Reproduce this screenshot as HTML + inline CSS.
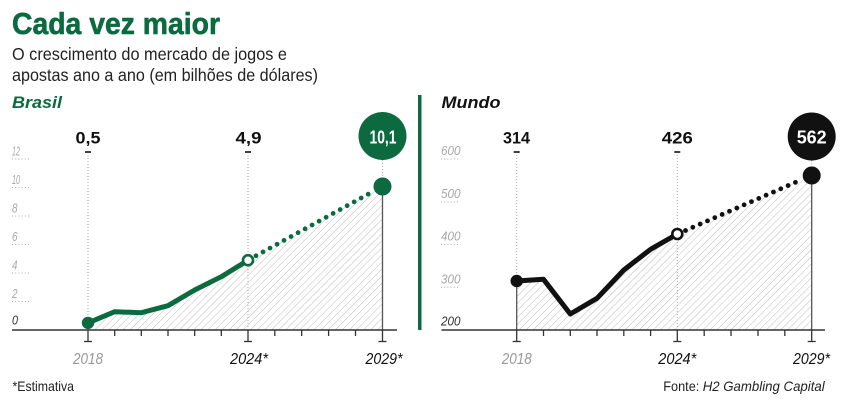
<!DOCTYPE html>
<html><head><meta charset="utf-8">
<style>
html,body{margin:0;padding:0;background:#fff;}
svg{display:block;}
text{font-family:"Liberation Sans",sans-serif;}
</style></head>
<body>
<svg width="851" height="400" viewBox="0 0 851 400" xmlns="http://www.w3.org/2000/svg">
<defs>
<pattern id="h" width="5" height="5" patternUnits="userSpaceOnUse" patternTransform="rotate(45)">
<line x1="0" y1="0" x2="0" y2="5" stroke="#bdbdbd" stroke-width="1"/>
</pattern>
</defs>
<rect width="851" height="400" fill="#fff"/>

<!-- Titles -->
<text x="12" y="34" font-size="31" font-weight="bold" fill="#0b6a3f" stroke="#0b6a3f" stroke-width="0.6" textLength="208" lengthAdjust="spacingAndGlyphs">Cada vez maior</text>
<text x="12" y="60" font-size="17.5" fill="#222" textLength="275" lengthAdjust="spacingAndGlyphs">O crescimento do mercado de jogos e</text>
<text x="12" y="81" font-size="17.5" fill="#222" textLength="306" lengthAdjust="spacingAndGlyphs">apostas ano a ano (em bilhões de dólares)</text>
<text x="12" y="108" font-size="17" font-weight="bold" font-style="italic" fill="#0b6a3f" textLength="50" lengthAdjust="spacingAndGlyphs">Brasil</text>
<text x="441.5" y="108" font-size="17" font-weight="bold" font-style="italic" fill="#111" textLength="59" lengthAdjust="spacingAndGlyphs">Mundo</text>

<!-- divider -->
<rect x="418" y="95" width="3.5" height="235" fill="#0b6a3f"/>

<!-- ================= BRASIL ================= -->
<g font-style="italic" font-size="13" fill="#a8a8a8">
<text x="12" y="155.5" textLength="8" lengthAdjust="spacingAndGlyphs">12</text>
<text x="12" y="184" textLength="8" lengthAdjust="spacingAndGlyphs">10</text>
<text x="12" y="212.5" textLength="5.5" lengthAdjust="spacingAndGlyphs">8</text>
<text x="12" y="241" textLength="5.5" lengthAdjust="spacingAndGlyphs">6</text>
<text x="12" y="269.5" textLength="5.5" lengthAdjust="spacingAndGlyphs">4</text>
<text x="12" y="298" textLength="5.5" lengthAdjust="spacingAndGlyphs">2</text>
<text x="12" y="324.5" fill="#333" textLength="6" lengthAdjust="spacingAndGlyphs">0</text>
</g>
<g stroke="#aaa" stroke-width="1" stroke-dasharray="1 2.2">
<line x1="12" y1="159" x2="31" y2="159"/>
<line x1="12" y1="187.5" x2="31" y2="187.5"/>
<line x1="12" y1="216" x2="31" y2="216"/>
<line x1="12" y1="244.5" x2="31" y2="244.5"/>
<line x1="12" y1="273" x2="31" y2="273"/>
<line x1="12" y1="301.5" x2="31" y2="301.5"/>
</g>

<polygon points="88,330 88,322.9 114.7,311.7 141.3,312.7 168,305.7 194.7,290 221.3,276.7 248,260.2 382.5,186.5 382.5,330" fill="url(#h)"/>

<!-- dotted verticals -->
<g stroke="#aaa" stroke-width="1" stroke-dasharray="1 2">
<line x1="88" y1="155" x2="88" y2="318"/>
<line x1="248" y1="155" x2="248" y2="330"/>
<line x1="382.5" y1="160" x2="382.5" y2="178"/>
</g>
<line x1="382.5" y1="186" x2="382.5" y2="330" stroke="#555" stroke-width="1.3"/>

<!-- label dashes -->
<g stroke="#111" stroke-width="1.6">
<line x1="85" y1="152" x2="91" y2="152"/>
<line x1="245" y1="152" x2="251" y2="152"/>
</g>

<!-- axis -->
<line x1="12" y1="330" x2="397" y2="330" stroke="#333" stroke-width="1.5"/>
<g stroke="#333" stroke-width="1.3">
<line x1="114.7" y1="330" x2="114.7" y2="336"/>
<line x1="141.3" y1="330" x2="141.3" y2="336"/>
<line x1="168" y1="330" x2="168" y2="336"/>
<line x1="194.7" y1="330" x2="194.7" y2="336"/>
<line x1="221.3" y1="330" x2="221.3" y2="336"/>
<line x1="274.8" y1="330" x2="274.8" y2="336"/>
<line x1="301.7" y1="330" x2="301.7" y2="336"/>
<line x1="328.6" y1="330" x2="328.6" y2="336"/>
<line x1="355.5" y1="330" x2="355.5" y2="336"/>
<line x1="88" y1="330" x2="88" y2="341.5"/>
<line x1="248" y1="330" x2="248" y2="341.5"/>
<line x1="382.5" y1="330" x2="382.5" y2="341.5"/>
<line x1="84" y1="341.5" x2="92" y2="341.5"/>
<line x1="244" y1="341.5" x2="252" y2="341.5"/>
<line x1="378.5" y1="341.5" x2="386.5" y2="341.5"/>
</g>

<!-- data line -->
<polyline points="88,322.9 114.7,311.7 141.3,312.7 168,305.7 194.7,290 221.3,276.7 248,260.2" fill="none" stroke="#0b6a3f" stroke-width="5" stroke-linejoin="round"/>
<line x1="256" y1="255.8" x2="373" y2="191.5" stroke="#0b6a3f" stroke-width="4.8" stroke-linecap="round" stroke-dasharray="0 8"/>
<circle cx="88" cy="322.9" r="6.2" fill="#0b6a3f"/>
<circle cx="248" cy="260.2" r="5" fill="#fff" stroke="#0b6a3f" stroke-width="2.6"/>
<circle cx="382.5" cy="186.5" r="9" fill="#0b6a3f"/>

<!-- value labels -->
<text x="88" y="143.3" font-size="17" font-weight="bold" fill="#111" text-anchor="middle" textLength="25" lengthAdjust="spacingAndGlyphs">0,5</text>
<text x="248.5" y="143.3" font-size="17" font-weight="bold" fill="#111" text-anchor="middle" textLength="26" lengthAdjust="spacingAndGlyphs">4,9</text>
<circle cx="382.5" cy="136" r="24" fill="#0b6a3f"/>
<text x="383" y="143.3" font-size="18.5" font-weight="bold" fill="#fff" text-anchor="middle" textLength="27" lengthAdjust="spacingAndGlyphs">10,1</text>

<!-- year labels -->
<g font-style="italic" font-size="16" text-anchor="middle">
<text x="88" y="364" fill="#999" textLength="30" lengthAdjust="spacingAndGlyphs">2018</text>
<text x="249" y="364" fill="#111" textLength="38" lengthAdjust="spacingAndGlyphs">2024*</text>
<text x="384" y="364" fill="#111" textLength="37" lengthAdjust="spacingAndGlyphs">2029*</text>
</g>
<text x="12.5" y="391" font-size="14" fill="#222" textLength="61.5" lengthAdjust="spacingAndGlyphs">*Estimativa</text>

<!-- ================= MUNDO ================= -->
<g font-style="italic" font-size="13" fill="#a8a8a8">
<text x="441" y="155" textLength="19.5" lengthAdjust="spacingAndGlyphs">600</text>
<text x="441" y="198" textLength="19.5" lengthAdjust="spacingAndGlyphs">500</text>
<text x="441" y="240.5" textLength="19.5" lengthAdjust="spacingAndGlyphs">400</text>
<text x="441" y="283.5" textLength="19.5" lengthAdjust="spacingAndGlyphs">300</text>
<text x="441" y="325.5" fill="#333" textLength="19.5" lengthAdjust="spacingAndGlyphs">200</text>
</g>
<g stroke="#aaa" stroke-width="1" stroke-dasharray="1 2.2">
<line x1="441" y1="159" x2="460" y2="159"/>
<line x1="441" y1="202" x2="460" y2="202"/>
<line x1="441" y1="244.5" x2="460" y2="244.5"/>
<line x1="441" y1="287.3" x2="460" y2="287.3"/>
</g>

<polygon points="516.7,330 516.7,281 543.5,279.3 570.3,314 597,298.3 623.8,270 650.6,249.3 677.3,234 811.7,175.5 811.7,330" fill="url(#h)"/>

<g stroke="#aaa" stroke-width="1" stroke-dasharray="1 2">
<line x1="516.7" y1="155" x2="516.7" y2="276"/>
<line x1="677.3" y1="155" x2="677.3" y2="330"/>
<line x1="811.7" y1="160.5" x2="811.7" y2="167"/>
</g>
<line x1="516.7" y1="281" x2="516.7" y2="330" stroke="#555" stroke-width="1.3"/>
<line x1="811.7" y1="175" x2="811.7" y2="330" stroke="#555" stroke-width="1.3"/>

<g stroke="#111" stroke-width="1.6">
<line x1="513.7" y1="152" x2="519.7" y2="152"/>
<line x1="674.3" y1="152" x2="680.3" y2="152"/>
</g>

<line x1="441.5" y1="330" x2="825" y2="330" stroke="#333" stroke-width="1.5"/>
<g stroke="#333" stroke-width="1.3">
<line x1="543.5" y1="330" x2="543.5" y2="336"/>
<line x1="570.3" y1="330" x2="570.3" y2="336"/>
<line x1="597" y1="330" x2="597" y2="336"/>
<line x1="623.8" y1="330" x2="623.8" y2="336"/>
<line x1="650.6" y1="330" x2="650.6" y2="336"/>
<line x1="704.2" y1="330" x2="704.2" y2="336"/>
<line x1="731" y1="330" x2="731" y2="336"/>
<line x1="758" y1="330" x2="758" y2="336"/>
<line x1="784.8" y1="330" x2="784.8" y2="336"/>
<line x1="516.7" y1="330" x2="516.7" y2="341.5"/>
<line x1="677.3" y1="330" x2="677.3" y2="341.5"/>
<line x1="811.7" y1="330" x2="811.7" y2="341.5"/>
<line x1="512.7" y1="341.5" x2="520.7" y2="341.5"/>
<line x1="673.3" y1="341.5" x2="681.3" y2="341.5"/>
<line x1="807.7" y1="341.5" x2="815.7" y2="341.5"/>
</g>

<polyline points="516.7,281 543.5,279.3 570.3,314 597,298.3 623.8,270 650.6,249.3 677.3,234" fill="none" stroke="#111" stroke-width="5" stroke-linejoin="round"/>
<line x1="685.5" y1="230.5" x2="802" y2="179.5" stroke="#111" stroke-width="4.8" stroke-linecap="round" stroke-dasharray="0 8"/>
<circle cx="516.7" cy="281" r="6.2" fill="#111"/>
<circle cx="677.3" cy="234" r="5" fill="#fff" stroke="#111" stroke-width="2.6"/>
<circle cx="811.7" cy="175.5" r="9" fill="#111"/>

<text x="516.5" y="143.3" font-size="17" font-weight="bold" fill="#111" text-anchor="middle" textLength="27" lengthAdjust="spacingAndGlyphs">314</text>
<text x="677.3" y="143.3" font-size="17" font-weight="bold" fill="#111" text-anchor="middle" textLength="31" lengthAdjust="spacingAndGlyphs">426</text>
<circle cx="811.7" cy="136.5" r="24" fill="#111"/>
<text x="811.7" y="143.5" font-size="18.5" font-weight="bold" fill="#fff" text-anchor="middle" textLength="30" lengthAdjust="spacingAndGlyphs">562</text>

<g font-style="italic" font-size="16" text-anchor="middle">
<text x="516.7" y="364" fill="#999" textLength="30" lengthAdjust="spacingAndGlyphs">2018</text>
<text x="677.3" y="364" fill="#111" textLength="38" lengthAdjust="spacingAndGlyphs">2024*</text>
<text x="811.5" y="364" fill="#111" textLength="37" lengthAdjust="spacingAndGlyphs">2029*</text>
</g>
<text x="663.3" y="391" font-size="14" fill="#222" textLength="36" lengthAdjust="spacingAndGlyphs">Fonte:</text>
<text x="702.7" y="391" font-size="14" font-style="italic" fill="#222" textLength="122" lengthAdjust="spacingAndGlyphs">H2 Gambling Capital</text>
</svg>
</body></html>
